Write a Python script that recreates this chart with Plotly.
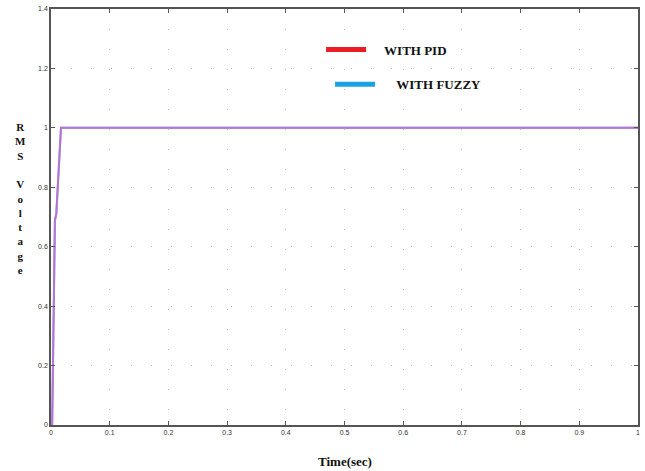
import plotly.graph_objects as go

# Data (time in seconds, RMS voltage in p.u.)
time_pid = [0, 0.002, 0.0067, 0.009, 0.017, 0.1, 0.5, 1.0]
v_pid = [0, 0.0, 0.69, 0.71, 1.0, 1.0, 1.0, 1.0]
time_fuzzy = [0, 0.002, 0.0067, 0.009, 0.017, 0.1, 0.5, 1.0]
v_fuzzy = [0, 0.0, 0.69, 0.71, 1.0, 1.0, 1.0, 1.0]

x_ticks = [0, 0.1, 0.2, 0.3, 0.4, 0.5, 0.6, 0.7, 0.8, 0.9, 1.0]
x_labels = ["0", "0.1", "0.2", "0.3", "0.4", "0.5", "0.6", "0.7", "0.8", "0.9", "1"]
y_ticks = [0, 0.2, 0.4, 0.6, 0.8, 1.0, 1.2, 1.4]
y_labels = ["0", "0.2", "0.4", "0.6", "0.8", "1", "1.2", "1.4"]

overlap_color = "#ad78d8"
serif = "Liberation Serif"

fig = go.Figure()
# data lines (PID and Fuzzy overlap -> purple)
fig.add_trace(go.Scatter(x=time_pid, y=v_pid, mode="lines", name="WITH PID",
                         line=dict(color=overlap_color, width=2), showlegend=False))
fig.add_trace(go.Scatter(x=time_fuzzy, y=v_fuzzy, mode="lines", name="WITH FUZZY",
                         line=dict(color=overlap_color, width=2), showlegend=False,
                         opacity=0.8))
# legend entries
fig.add_trace(go.Scatter(x=[None], y=[None], mode="lines",
                         name="<b>\u00a0\u00a0\u00a0\u00a0WITH PID</b>",
                         line=dict(color="#ed1c24", width=5), legend="legend"))
fig.add_trace(go.Scatter(x=[None], y=[None], mode="lines",
                         name="<b>\u00a0\u00a0\u00a0\u00a0\u00a0WITH FUZZY</b>",
                         line=dict(color="#1ba1e2", width=5), legend="legend2"))

axis_common = dict(
    showline=True, linecolor="#555555", linewidth=1.5, mirror="ticks",
    ticks="inside", ticklen=4, tickcolor="#555555", tickwidth=1,
    showgrid=True, gridcolor="#bdbdbd", gridwidth=1, griddash="1px,19px",
    zeroline=False,
    tickfont=dict(family="Liberation Sans", size=7, color="#333333"),
)

fig.update_xaxes(range=[0, 1], tickvals=x_ticks, ticktext=x_labels, **axis_common)
fig.update_yaxes(range=[0, 1.4], tickvals=y_ticks, ticktext=y_labels, **axis_common)

legend_common = dict(bgcolor="rgba(0,0,0,0)", borderwidth=0, itemwidth=40,
                     font=dict(family=serif, size=13, color="#111111"),
                     xanchor="left", yanchor="middle", tracegroupgap=0)
fig.update_layout(
    width=645, height=471,
    margin=dict(l=51, r=5, t=5, b=46),
    paper_bgcolor="white", plot_bgcolor="white",
    legend=dict(x=(322 - 51) / 589, y=(425 - 46) / 420, **legend_common),
    legend2=dict(x=(331 - 51) / 589, y=(425 - 81) / 420, **legend_common),
    annotations=[
        dict(text="<b>Time(sec)</b>", xref="paper", yref="paper",
             x=0.5, y=(425 - 462) / 420, xanchor="center", yanchor="middle",
             showarrow=False, font=dict(family=serif, size=13, color="#111111")),
        dict(text="<b>R<br>M<br>S<br> <br>V<br>o<br>l<br>t<br>a<br>g<br>e</b>",
             xref="paper", yref="paper",
             x=(20 - 51) / 589, y=(425 - 196) / 420, xanchor="center", yanchor="middle",
             showarrow=False, align="center",
             font=dict(family=serif, size=11, color="#111111")),
    ],
)

fig.write_html("out.html")
